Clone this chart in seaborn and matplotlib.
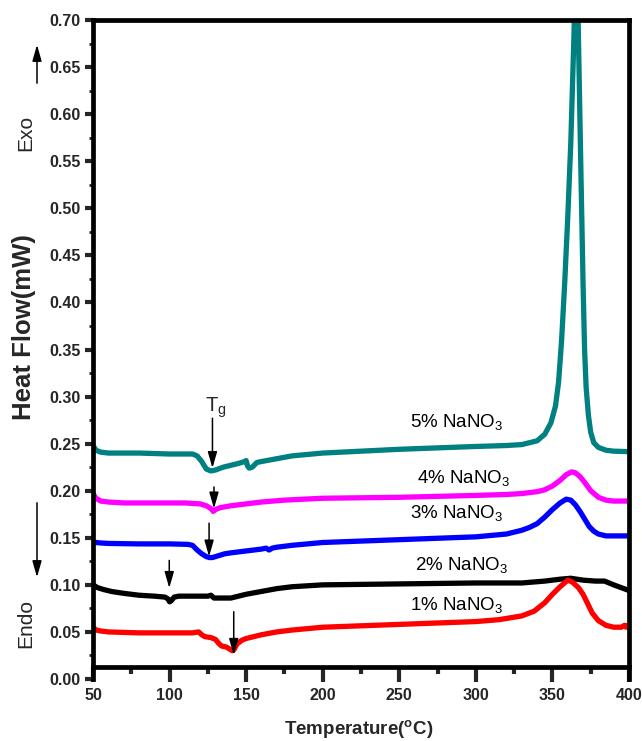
import numpy as np
import pandas as pd
import seaborn as sns
import matplotlib
matplotlib.use("Agg")
import matplotlib.pyplot as plt

# ---------------- data ----------------
series_names = ["5% NaNO3", "4% NaNO3", "3% NaNO3", "2% NaNO3", "1% NaNO3"]
series_labels = [r"5% NaNO$_3$", r"4% NaNO$_3$", r"3% NaNO$_3$", r"2% NaNO$_3$", r"1% NaNO$_3$"]
series_colors = ["#008080", "#FF00FF", "#0000FF", "#000000", "#FF0000"]

t_5 = [50, 52, 55, 60, 80, 100, 115, 118, 121, 124, 127, 130, 135, 140, 145, 149, 150, 151, 152,
       154, 157, 160, 170, 180, 200, 250, 300, 320, 330, 335, 340, 345, 349, 352, 354, 356, 358,
       360, 362, 364, 365.7, 367, 368.7, 370, 371, 372, 373.5, 375, 377, 380, 385, 390, 400]
hf_5 = [0.248, 0.243, 0.241, 0.240, 0.240, 0.239, 0.239, 0.237, 0.231, 0.223, 0.221, 0.222, 0.225,
        0.227, 0.229, 0.231, 0.232, 0.226, 0.224, 0.225, 0.230, 0.231, 0.234, 0.237, 0.240, 0.244,
        0.247, 0.248, 0.249, 0.251, 0.253, 0.260, 0.272, 0.290, 0.315, 0.360, 0.420, 0.490, 0.570,
        0.680, 0.800, 0.680, 0.530, 0.420, 0.350, 0.310, 0.280, 0.262, 0.251, 0.246, 0.243, 0.242,
        0.2415]

t_4 = [50, 52, 55, 60, 70, 90, 110, 120, 124, 127, 128.5, 130, 133, 140, 150, 160, 175, 200, 250,
       300, 320, 330, 340, 345, 350, 355, 359, 362.5, 365, 368, 371, 375, 380, 385, 390, 395, 400]
hf_4 = [0.197, 0.192, 0.189, 0.188, 0.187, 0.187, 0.187, 0.186, 0.184, 0.181, 0.178, 0.180, 0.182,
        0.184, 0.186, 0.188, 0.190, 0.192, 0.193, 0.195, 0.196, 0.197, 0.199, 0.201, 0.205, 0.211,
        0.217, 0.220, 0.219, 0.215, 0.209, 0.200, 0.193, 0.190, 0.189, 0.189, 0.189]

t_3 = [50, 52, 55, 60, 80, 100, 112, 115, 118, 121, 124, 126, 128, 132, 136, 140, 145, 150, 155,
       160, 163, 165, 167, 170, 180, 200, 250, 300, 320, 330, 335, 340, 345, 350, 355, 359, 362,
       365, 368, 371, 374, 377, 380, 385, 390, 400]
hf_3 = [0.146, 0.145, 0.1445, 0.144, 0.1435, 0.1435, 0.143, 0.142, 0.137, 0.133, 0.130, 0.129,
        0.129, 0.131, 0.133, 0.134, 0.135, 0.136, 0.137, 0.138, 0.139, 0.137, 0.139, 0.140, 0.142,
        0.145, 0.148, 0.151, 0.154, 0.158, 0.161, 0.165, 0.172, 0.180, 0.187, 0.191, 0.190, 0.185,
        0.178, 0.170, 0.162, 0.157, 0.154, 0.152, 0.152, 0.152]

t_2 = [50, 53, 57, 62, 70, 80, 90, 97, 99, 100, 101, 103, 106, 115, 125, 127, 129, 135, 140, 145,
       150, 160, 170, 180, 190, 200, 250, 300, 330, 345, 355, 362, 370, 378, 384, 390, 395, 400]
hf_2 = [0.100, 0.097, 0.095, 0.093, 0.091, 0.089, 0.088, 0.087, 0.085, 0.082, 0.083, 0.087, 0.088,
        0.088, 0.088, 0.089, 0.086, 0.086, 0.086, 0.088, 0.090, 0.093, 0.096, 0.098, 0.099, 0.100,
        0.101, 0.102, 0.102, 0.104, 0.106, 0.107, 0.105, 0.104, 0.104, 0.100, 0.097, 0.094]

t_1 = [50, 52, 55, 60, 80, 100, 115, 119, 121, 123, 127, 130, 132, 134, 137, 141, 142, 144, 147,
       150, 155, 160, 170, 180, 200, 250, 300, 315, 330, 338, 345, 350, 355, 360, 363, 367, 370,
       373, 376, 380, 385, 390, 395, 397, 398, 400]
hf_1 = [0.055, 0.052, 0.051, 0.050, 0.049, 0.049, 0.049, 0.050, 0.047, 0.045, 0.044, 0.042, 0.038,
        0.035, 0.034, 0.030, 0.031, 0.037, 0.041, 0.043, 0.045, 0.047, 0.050, 0.052, 0.055, 0.058,
        0.061, 0.063, 0.067, 0.072, 0.081, 0.090, 0.098, 0.105, 0.103, 0.097, 0.090, 0.080, 0.070,
        0.062, 0.057, 0.055, 0.055, 0.057, 0.055, 0.058]

# label anchors (left x, baseline y)
label_x = [257, 261.4, 257, 260.3, 257]
label_y = [0.268, 0.2085, 0.1707, 0.1158, 0.0733]

# Tg marker arrows: x, tail y, head y
arrow_x = [128, 129, 125.8, 99.8, 141.9]
arrow_tail = [0.277, 0.204, 0.1655, 0.126, 0.0715]
arrow_head = [0.224, 0.181, 0.130, 0.0966, 0.0255]

x_ticks = [50, 100, 150, 200, 250, 300, 350, 400]
y_ticks = [0.00, 0.05, 0.10, 0.15, 0.20, 0.25, 0.30, 0.35, 0.40, 0.45, 0.50, 0.55, 0.60, 0.65, 0.70]

# ---------------- style ----------------
sns.set_style("ticks")
FONT = ["Liberation Sans", "DejaVu Sans"]
plt.rcParams["font.family"] = FONT
plt.rcParams["mathtext.fontset"] = "custom"
plt.rcParams["mathtext.rm"] = "Liberation Sans"
plt.rcParams["mathtext.it"] = "Liberation Sans:italic"
plt.rcParams["mathtext.bf"] = "Liberation Sans:bold"

frames = []
for name, t, hf in zip(series_names, [t_5, t_4, t_3, t_2, t_1], [hf_5, hf_4, hf_3, hf_2, hf_1]):
    frames.append(pd.DataFrame({"T": t, "HF": hf, "series": name}))
df = pd.concat(frames, ignore_index=True)

fig = plt.figure(figsize=(6.42, 7.41), dpi=100)
ax = fig.add_axes([93 / 642, 1 - 679 / 741, (629 - 93) / 642, (679 - 20) / 741])

sns.lineplot(data=df, x="T", y="HF", hue="series", hue_order=series_names,
             palette=dict(zip(series_names, series_colors)), sort=False, estimator=None,
             linewidth=3.8, legend=False, ax=ax)
for ln in ax.get_lines():
    ln.set_solid_capstyle("butt")
    ln.set_solid_joinstyle("round")

ax.set_xlim(50, 400)
ax.set_ylim(0, 0.70)
ax.set_xticks(x_ticks)
ax.set_xticks([75, 125, 175, 225, 275, 325, 375], minor=True)
ax.set_yticks(y_ticks)
ax.set_yticks(np.arange(0.025, 0.70, 0.05), minor=True)
ax.set_yticklabels([f"{v:.2f}" for v in y_ticks])
ax.set_xticklabels([str(v) for v in x_ticks])
ax.set_xlabel("")
ax.set_ylabel("")

for s in ["left", "right", "top", "bottom"]:
    ax.spines[s].set_linewidth(3.4)
    ax.spines[s].set_color("black")
ax.spines["bottom"].set_position(("data", 0.0127))
ax.spines["bottom"].set_zorder(1)

ax.tick_params(axis="x", which="major", direction="out", length=11, width=3, pad=4,
               labelsize=11.5, top=False)
ax.tick_params(axis="x", which="minor", direction="out", length=5, width=3, top=False)
ax.tick_params(axis="y", which="major", direction="out", length=6, width=3, pad=3,
               labelsize=11.5, right=False)
ax.tick_params(axis="y", which="minor", direction="out", length=3, width=2, right=False)
for lab in ax.get_xticklabels() + ax.get_yticklabels():
    lab.set_fontweight("bold")

# series labels
for lab, lx, ly in zip(series_labels, label_x, label_y):
    ax.text(lx, ly, lab, fontsize=13.5, ha="left", va="baseline", color="black")

# Tg text
ax.text(123.2, 0.2836, r"T$_\mathrm{g}$", fontsize=14.5, ha="left", va="baseline")

# Tg arrows
for axx, yt, yh in zip(arrow_x, arrow_tail, arrow_head):
    ax.annotate("", xy=(axx, yh), xytext=(axx, yt),
                arrowprops=dict(arrowstyle="-|>,head_length=0.7,head_width=0.2",
                                color="black", lw=1.1, shrinkA=0, shrinkB=0,
                                mutation_scale=14))

# axis labels
fig.text(359 / 642, 1 - 734 / 741, r"Temperature($^{\mathbf{o}}$C)", fontsize=13.5,
         fontweight="bold", ha="center", va="baseline")
fig.text(24 / 642, 1 - 327 / 741, "Heat Flow(mW)", fontsize=18.5, fontweight="bold",
         rotation=90, ha="center", va="center")

# Exo / Endo
fig.text(26 / 642, 1 - 133 / 741, "Exo", fontsize=15, rotation=90, ha="center", va="center")
fig.text(26 / 642, 1 - 623 / 741, "Endo", fontsize=15, rotation=90, ha="center", va="center")
fig.add_artist(matplotlib.patches.FancyArrowPatch(
    (37 / 642, 1 - 86 / 741), (37 / 642, 1 - 42 / 741), transform=fig.transFigure,
    arrowstyle="-|>,head_length=0.7,head_width=0.2", mutation_scale=14, lw=1.1, color="black"))
fig.add_artist(matplotlib.patches.FancyArrowPatch(
    (37 / 642, 1 - 500 / 741), (37 / 642, 1 - 580 / 741), transform=fig.transFigure,
    arrowstyle="-|>,head_length=0.7,head_width=0.2", mutation_scale=14, lw=1.1, color="black"))

fig.savefig("out.png", dpi=100, facecolor="white")
